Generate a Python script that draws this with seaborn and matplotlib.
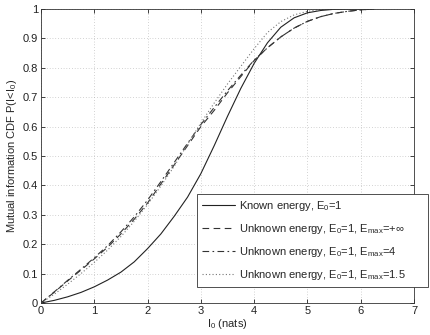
import matplotlib
matplotlib.use("Agg")
import matplotlib.pyplot as plt
import numpy as np
import pandas as pd
import seaborn as sns

# values (x step 0.25)
x_known = [0, 0.25, 0.5, 0.75, 1, 1.25, 1.5, 1.75, 2, 2.25, 2.5, 2.75, 3, 3.25,
           3.5, 3.75, 4, 4.25, 4.5, 4.75, 5, 5.25, 5.5, 5.75, 6, 6.25]
y_known = [0, 0.009, 0.021, 0.036, 0.055, 0.078, 0.105, 0.14, 0.185, 0.235, 0.295,
           0.36, 0.44, 0.535, 0.635, 0.73, 0.815, 0.885, 0.938, 0.97, 0.987, 0.995,
           0.999, 1.0, 1.0, 1.0]

y_inf = [0, 0.037, 0.075, 0.112, 0.15, 0.19, 0.235, 0.285, 0.34, 0.405, 0.47, 0.535,
         0.6, 0.655, 0.715, 0.77, 0.825, 0.868, 0.905, 0.935, 0.958, 0.974, 0.985,
         0.992, 0.997, 1.0]
y_emax4 = [0, 0.038, 0.077, 0.115, 0.154, 0.195, 0.242, 0.293, 0.35, 0.413, 0.478,
           0.543, 0.607, 0.665, 0.722, 0.775, 0.826, 0.868, 0.905, 0.935, 0.958,
           0.974, 0.985, 0.992, 0.997, 1.0]
y_emax15 = [0, 0.03, 0.064, 0.1, 0.138, 0.18, 0.226, 0.278, 0.335, 0.398, 0.465, 0.54,
            0.612, 0.68, 0.745, 0.805, 0.865, 0.92, 0.957, 0.98, 0.992, 0.998, 1.0,
            1.0, 1.0, 1.0]

labels = [
    r"Known energy, E$_0$=1",
    r"Unknown energy, E$_0$=1, E$_{max}$=+$\infty$",
    r"Unknown energy, E$_0$=1, E$_{max}$=4",
    r"Unknown energy, E$_0$=1, E$_{max}$=1.5",
]
series = [y_known, y_inf, y_emax4, y_emax15]
styles = [
    dict(color="#222222", linestyle="-"),
    dict(color="#333333", linestyle=(0, (6, 4))),
    dict(color="#333333", linestyle=(0, (6, 3, 1.5, 3))),
    dict(color="#777777", linestyle=(0, (1, 2))),
]

x_ticks = list(range(0, 8))
y_ticks = [0, 0.1, 0.2, 0.3, 0.4, 0.5, 0.6, 0.7, 0.8, 0.9, 1]
y_ticklabels = ["0", "0.1", "0.2", "0.3", "0.4", "0.5", "0.6", "0.7", "0.8", "0.9", "1"]

sns.set_style("ticks")
plt.rcParams["font.family"] = ["Liberation Sans", "DejaVu Sans"]
plt.rcParams["mathtext.default"] = "regular"

fig = plt.figure(figsize=(4.31, 3.35), dpi=100)
ax = fig.add_axes([41 / 431, 32 / 335, 373 / 431, 294 / 335])

for ys, lab, st in zip(series, labels, styles):
    df = pd.DataFrame({"I0": x_known, "cdf": ys})
    sns.lineplot(data=df, x="I0", y="cdf", ax=ax, label=lab, linewidth=0.8, **st)

ax.set_xlim(0, 7)
ax.set_ylim(0, 1)
ax.set_xticks(x_ticks)
ax.set_yticks(y_ticks)
ax.set_yticklabels(y_ticklabels)
ax.tick_params(direction="in", top=True, right=True, length=3, width=0.6,
               labelsize=8, pad=2, colors="#222222")
for s in ax.spines.values():
    s.set_linewidth(0.6)
    s.set_color("#333333")
ax.grid(True, linestyle=(0, (1, 3)), color="#aaaaaa", linewidth=0.5)
ax.set_xlabel(r"I$_0$ (nats)", fontsize=8, labelpad=1)
ax.set_ylabel(r"Mutual information CDF P(I<I$_0$)", fontsize=8, labelpad=3)

leg = ax.legend(loc="upper left", bbox_to_anchor=(197 / 431, 42 / 335, 231 / 431, 99 / 335),
                bbox_transform=fig.transFigure, mode="expand", fontsize=8,
                handlelength=3.0, labelspacing=0.82, handletextpad=0.3,
                borderaxespad=0, fancybox=False, framealpha=1, borderpad=0.45)
leg.get_frame().set_edgecolor("#333333")
leg.get_frame().set_linewidth(0.6)

fig.savefig("out.png", dpi=100)
